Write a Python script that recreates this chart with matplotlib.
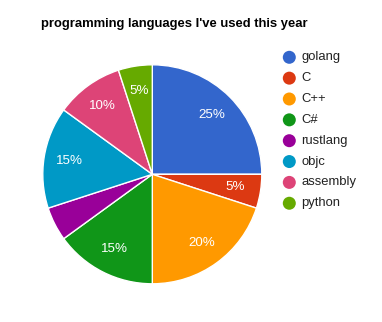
import matplotlib
matplotlib.use("Agg")
import matplotlib.pyplot as plt

categories = ["golang", "C", "C++", "C#", "rustlang", "objc", "assembly", "python"]
values = [25, 5, 20, 15, 5, 15, 10, 5]
show_label = [True, True, True, True, False, True, True, True]
colors = ["#3366cc", "#dc3912", "#ff9900", "#109618", "#990099", "#0099c6", "#dd4477", "#66aa00"]
title = "programming languages I've used this year"

W, H = 382, 322
fig = plt.figure(figsize=(W / 100, H / 100), dpi=100)
plt.rcParams['font.family'] = ['Liberation Sans', 'DejaVu Sans']

cx, cy, r = 152.3, 174.3, 109.5
pad = 1.03
size = 2 * r * pad
ax = fig.add_axes([(cx - size / 2) / W, (H - cy - size / 2) / H, size / W, size / H])
total = sum(values)
labels_pct = [f"{round(v / total * 100)}%" if s else "" for v, s in zip(values, show_label)]

wedges, texts = ax.pie(values, colors=colors, startangle=90, counterclock=False,
                       wedgeprops=dict(edgecolor="white", linewidth=1.0),
                       labels=labels_pct, labeldistance=0.77,
                       textprops=dict(color="white", fontsize=9.6, ha="center", va="center"))
ax.set_xlim(-pad, pad)
ax.set_ylim(-pad, pad)
ax.set_aspect("equal")
ax.axis("off")

fig.text(174.3 / W, 1 - 26.7 / H, title, ha="center", va="baseline",
         fontsize=9.4, fontweight="bold", color="#000000")

ov = fig.add_axes([0, 0, 1, 1])
ov.set_xlim(0, W)
ov.set_ylim(H, 0)
ov.axis("off")
y0, dy = 57.3, 20.85
for i, (name, c) in enumerate(zip(categories, colors)):
    y = y0 + i * dy
    ov.scatter([289.3], [y], s=(13 * 0.72) ** 2, color=c, edgecolors="none")
    ov.text(301, y, name, ha="left", va="center", fontsize=9.4, color="#222222")

fig.savefig("out.png", dpi=100)
